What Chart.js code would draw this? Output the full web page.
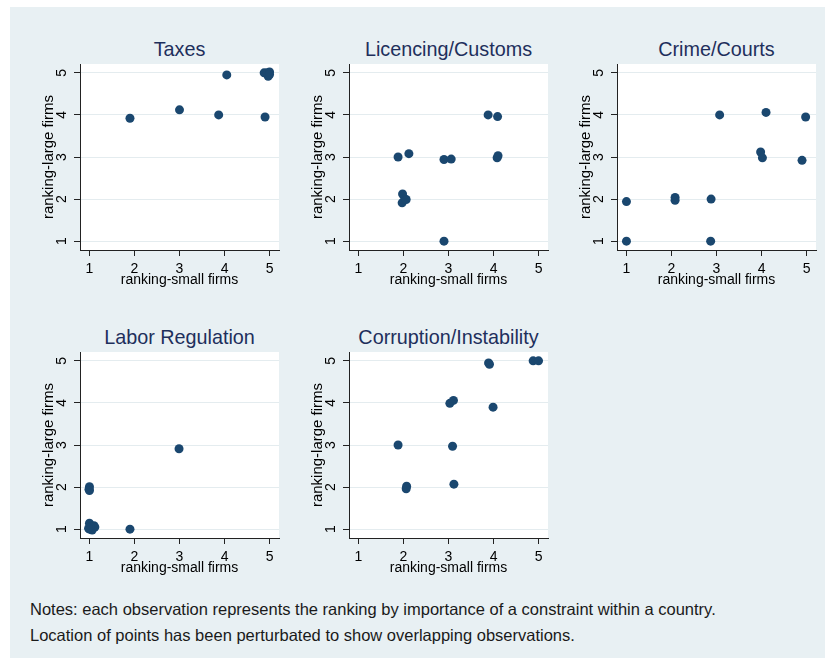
<!DOCTYPE html>
<html>
<head>
<meta charset="utf-8">
<script src="https://cdn.jsdelivr.net/npm/chart.js@4.4.1/dist/chart.umd.min.js"></script>
<style>
  body { margin: 0; background: #fff; font-family: "Liberation Sans", Arial, sans-serif; }
  #page { position: relative; width: 825px; height: 658px; overflow: hidden; }
  #bg { position: absolute; left: 10px; top: 7px; right: 0; bottom: 0; background: #e8f0f3; }
  .panel { position: absolute; width: 244px; height: 260px; }
  .ptitle { position: absolute; width: 240px; text-align: center; font-size: 19.8px; line-height: 24px; color: #1e2f5c; }
  #notes { position: absolute; left: 30px; top: 596px; font-size: 16.5px; line-height: 26px; color: #1a1a1a; white-space: nowrap; }
</style>
</head>
<body>
<div id="page">
  <div id="bg"></div>
  <div id="notes">Notes: each observation represents the ranking by importance of a constraint within a country.<br>Location of points has been perturbated to show overlapping observations.</div>
</div>
<script>
const tickVals = [1, 2, 3, 4, 5];
const xTitle = 'ranking-small firms';
const yTitle = 'ranking-large firms';

const panelTitles = ['Taxes', 'Licencing/Customs', 'Crime/Courts', 'Labor Regulation', 'Corruption/Instability'];

const taxesSmall = [1.9, 3.0, 3.87, 4.9, 4.05, 4.88, 4.95, 5.0, 4.97, 5.0];
const taxesLarge = [3.92, 4.12, 4.0, 3.95, 4.95, 5.0, 5.0, 5.02, 4.92, 4.96];

const licencingSmall = [1.88, 2.12, 1.98, 2.03, 1.97, 2.06, 2.9, 3.06, 2.9, 3.88, 4.09, 4.08, 4.1];
const licencingLarge = [3.0, 3.08, 2.12, 2.0, 1.91, 1.99, 2.94, 2.95, 1.0, 4.0, 3.96, 2.98, 3.03];

const crimeSmall = [1.0, 1.0, 2.08, 2.08, 2.88, 2.87, 3.07, 4.1, 3.98, 4.02, 4.98, 4.9];
const crimeLarge = [1.94, 1.0, 2.04, 1.97, 2.0, 1.0, 4.0, 4.06, 3.12, 2.98, 3.95, 2.92];

const laborSmall = [2.99, 1.9, 1.0, 0.99, 1.0, 1.0, 1.0, 1.05, 1.1, 1.12, 1.06, 1.02, 0.98];
const laborLarge = [2.91, 1.0, 2.01, 1.95, 1.92, 1.14, 1.0, 1.02, 1.08, 1.05, 0.98, 1.06, 1.02];

const corruptionSmall = [1.88, 2.07, 2.06, 3.09, 3.12, 3.03, 3.11, 3.99, 3.89, 3.91, 4.88, 5.0];
const corruptionLarge = [3.0, 2.02, 1.96, 2.97, 2.07, 3.99, 4.06, 3.9, 4.95, 4.92, 5.0, 5.0];

const panelData = [
    [taxesSmall, taxesLarge],
    [licencingSmall, licencingLarge],
    [crimeSmall, crimeLarge],
    [laborSmall, laborLarge],
    [corruptionSmall, corruptionLarge],
];

// plot area left/top for each panel
const areaPos = [[80, 64], [349, 64], [617, 64], [80, 352], [349, 352]];

const plotBg = {
    id: 'plotBg',
    beforeDraw(chart) {
        const a = chart.chartArea;
        chart.ctx.save();
        chart.ctx.fillStyle = '#fff';
        chart.ctx.fillRect(a.left, a.top, a.right - a.left, a.bottom - a.top);
        chart.ctx.restore();
    }
};

const fontFamily = '"Liberation Sans", Arial, sans-serif';
const tickFont = { family: fontFamily, size: 14 };
const setTicks = (scale) => { scale.ticks = tickVals.map(v => ({ value: v })); };

const page = document.getElementById('page');

panelData.forEach(([xs, ys], i) => {
    const [ax, ay] = areaPos[i];

    const title = document.createElement('div');
    title.className = 'ptitle';
    title.style.left = (ax + 99.5 - 120) + 'px';
    title.style.top = (ay - 8 - 19) + 'px';
    title.textContent = panelTitles[i];
    page.appendChild(title);

    const box = document.createElement('div');
    box.className = 'panel';
    box.style.left = (ax - 40) + 'px';
    box.style.top = (ay - 34) + 'px';
    const canvas = document.createElement('canvas');
    box.appendChild(canvas);
    page.appendChild(box);

    new Chart(canvas, {
        type: 'scatter',
        data: {
            datasets: [{
                data: xs.map((x, k) => ({ x: x, y: ys[k] })),
                backgroundColor: '#1a476f',
                borderWidth: 0,
                pointRadius: 4.5,
            }]
        },
        options: {
            responsive: true,
            maintainAspectRatio: false,
            animation: false,
            layout: { padding: { top: 34, right: 5, left: 0, bottom: 0 } },
            plugins: { legend: { display: false }, tooltip: { enabled: false } },
            scales: {
                x: {
                    type: 'linear',
                    min: 0.79,
                    max: 5.21,
                    afterBuildTicks: setTicks,
                    afterFit(scale) { scale.height = 40; },
                    grid: { drawOnChartArea: false, tickColor: '#222', tickLength: 6 },
                    border: { color: '#222', width: 1 },
                    ticks: { color: '#000', font: tickFont, padding: 5, maxRotation: 0 },
                    title: { display: true, text: xTitle, color: '#000', font: { family: fontFamily, size: 14 }, padding: { top: 0, bottom: 1 } },
                },
                y: {
                    type: 'linear',
                    min: 0.79,
                    max: 5.21,
                    afterBuildTicks: setTicks,
                    afterFit(scale) { scale.width = 40; },
                    grid: { color: '#e4ecef', tickColor: '#222', tickLength: 6 },
                    border: { color: '#222', width: 1 },
                    ticks: { color: '#000', font: tickFont, padding: 8, minRotation: 90, maxRotation: 90, crossAlign: 'center' },
                    title: { display: true, text: yTitle, color: '#000', font: { family: fontFamily, size: 15 }, padding: { top: 0, bottom: 0 } },
                }
            }
        },
        plugins: [plotBg]
    });
});
</script>
</body>
</html>
